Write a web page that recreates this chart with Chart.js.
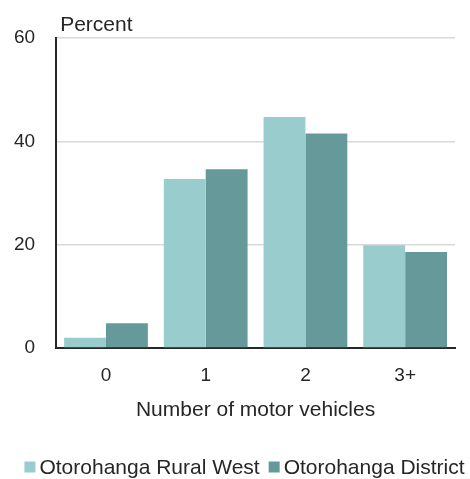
<!DOCTYPE html>
<html>
<head>
<meta charset="utf-8">
<script src="https://cdn.jsdelivr.net/npm/chart.js@4"></script>
<style>
  html, body { margin: 0; padding: 0; background: #fff; }
  #wrap { width: 470px; height: 479px; }
</style>
</head>
<body>
<div id="wrap"><canvas id="vehicleChart" width="470" height="479"></canvas></div>
<script>
// Number of motor vehicles per household (percent)
const categories = ['0', '1', '2', '3+'];
const ruralWest = [2.0, 32.7, 44.7, 19.9];
const district = [4.8, 34.6, 41.5, 18.6];
const yTicks = [0, 20, 40, 60];

const FONT = 'Liberation Sans, Arial, sans-serif';
const TEXT = '#262626';

// Draws the "Percent" label above the y axis
const unitLabel = {
    id: 'unitLabel',
    afterDraw(chart) {
        const { ctx, chartArea } = chart;
        ctx.save();
        ctx.font = '21px ' + FONT;
        ctx.fillStyle = TEXT;
        ctx.textAlign = 'left';
        ctx.textBaseline = 'alphabetic';
        ctx.fillText('Percent', chartArea.left + 4, chartArea.top - 7);
        ctx.restore();
    }
};

// Compact legend at the bottom (small box, tight gap to the text)
const bottomLegend = {
    id: 'bottomLegend',
    afterDraw(chart) {
        const ctx = chart.ctx;
        const box = 11, gap = 4, itemGap = 9;
        const y = 467;
        ctx.save();
        ctx.font = '21px ' + FONT;
        ctx.textBaseline = 'middle';
        ctx.textAlign = 'left';
        const items = chart.data.datasets.map(ds => ({
            label: ds.label,
            color: ds.backgroundColor,
            w: ctx.measureText(ds.label).width
        }));
        const total = items.reduce((s, it) => s + box + gap + it.w, 0) + itemGap * (items.length - 1);
        let x = 244.5 - total / 2;
        items.forEach(it => {
            ctx.fillStyle = it.color;
            ctx.fillRect(x, y - box / 2, box, box);
            x += box + gap;
            ctx.fillStyle = TEXT;
            ctx.fillText(it.label, x, y + 1);
            x += it.w + itemGap;
        });
        ctx.restore();
    }
};

new Chart(document.getElementById('vehicleChart'), {
    type: 'bar',
    data: {
        labels: categories,
        datasets: [
            {
                label: 'Otorohanga Rural West',
                data: ruralWest,
                backgroundColor: '#99CCCC',
                borderWidth: 0
            },
            {
                label: 'Otorohanga District',
                data: district,
                backgroundColor: '#669999',
                borderWidth: 0
            }
        ]
    },
    options: {
        responsive: false,
        animation: false,
        layout: { padding: { top: 38, right: 15, left: -7, bottom: 56 } },
        datasets: {
            bar: { categoryPercentage: 0.84, barPercentage: 1.0 }
        },
        plugins: {
            legend: { display: false },
            tooltip: { enabled: false }
        },
        scales: {
            y: {
                min: 0,
                max: 60,
                afterBuildTicks: (axis) => {
                    axis.ticks = yTicks.map(v => ({ value: v }));
                },
                ticks: {
                    font: { family: FONT, size: 19 },
                    color: TEXT,
                    padding: 21
                },
                grid: {
                    color: (c) => c.tick && c.tick.value === 0 ? 'rgba(0,0,0,0)' : '#d9d9d9',
                    lineWidth: 1.5,
                    drawTicks: false
                },
                border: { display: true, color: '#262626', width: 2 }
            },
            x: {
                ticks: {
                    font: { family: FONT, size: 19 },
                    color: TEXT,
                    padding: 16
                },
                grid: { display: false, drawTicks: false },
                border: { display: true, color: '#262626', width: 2 },
                title: {
                    display: true,
                    text: 'Number of motor vehicles',
                    font: { family: FONT, size: 21 },
                    color: TEXT,
                    padding: { top: -5, bottom: 0 }
                }
            }
        }
    },
    plugins: [unitLabel, bottomLegend]
});
</script>
</body>
</html>
